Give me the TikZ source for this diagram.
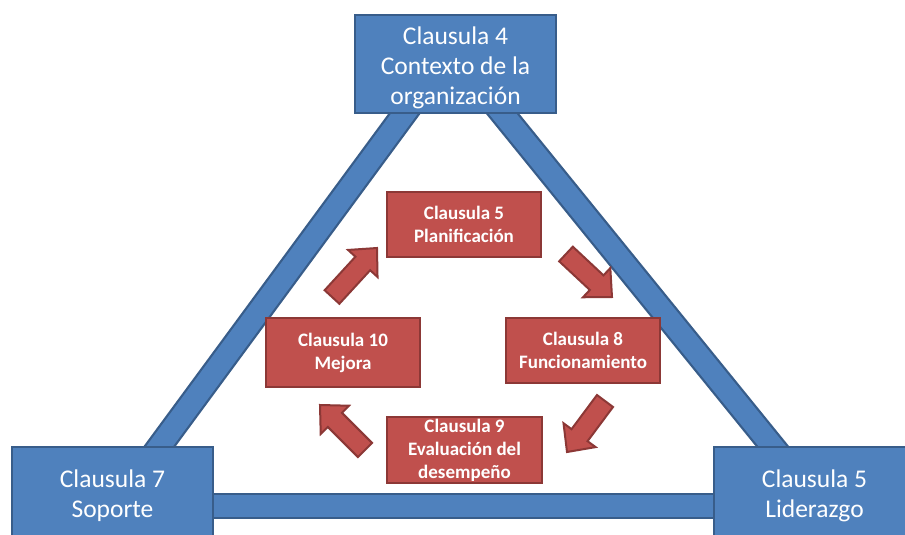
\documentclass[tikz,border=0pt]{standalone}
\usepackage{fontspec}
\setmainfont{Carlito}
\usetikzlibrary{calc,backgrounds}
\definecolor{bfill}{HTML}{4F81BD}
\definecolor{bline}{HTML}{385D8A}
\definecolor{rfill}{HTML}{C0504D}
\definecolor{rline}{HTML}{8C3836}
\tikzset{
 bluebox/.style={draw=bline, line width=2.5pt, fill=bfill, text=white, minimum width=201pt, minimum height=98pt, inner sep=0pt, align=center, font=\fontsize{25.5}{30}\selectfont},
 redbox/.style={draw=rline, line width=2.5pt, fill=rfill, text=white, minimum width=154pt, minimum height=65pt, inner sep=0pt, align=center, font=\bfseries\fontsize{19}{23}\selectfont},
 barout/.style={line width=26pt, draw=bline, shorten <=-20pt, shorten >=-20pt},
 barin/.style={line width=21.5pt, draw=bfill, shorten <=-20pt, shorten >=-20pt},
 redarrow/.style={draw=rline, line width=2pt, fill=rfill, line join=miter},
}
\newcommand\blockarrow[2]{%
 \coordinate (ha) at ($(#2)!21pt!(#1)$);
 \draw[redarrow] ($(#1)!10pt!90:(#2)$) -- ($(ha)!10pt!-90:(#1)$) -- ($(ha)!20pt!-90:(#1)$) -- (#2) -- ($(ha)!20pt!90:(#1)$) -- ($(ha)!10pt!90:(#1)$) -- ($(#1)!10pt!-90:(#2)$) -- cycle;}
\begin{document}
\begin{tikzpicture}[x=1pt,y=-1pt]
\clip (0,0) rectangle (905,535);
% blue boxes
\node[bluebox] (top) at (455.5,64) {\rule{0pt}{26pt}Clausula 4\\Contexto de la\\organización};
\node[bluebox] (bl) at (112.5,496) {Clausula 7\\Soporte};
\node[bluebox] (br) at (814.5,496) {Clausula 5\\Liderazgo};
% bars
\begin{scope}[on background layer]
\fill[white] (0,0) rectangle (905,535);
\draw[barout] ([xshift=-51.5pt]top.south) -- ([xshift=47.5pt]bl.north);
\draw[barin]  ([xshift=-51.5pt]top.south) -- ([xshift=47.5pt]bl.north);
\draw[barout] ([xshift=47.5pt]top.south) -- ([xshift=-42.5pt]br.north);
\draw[barin]  ([xshift=47.5pt]top.south) -- ([xshift=-42.5pt]br.north);
\draw[barout] ([yshift=-10pt]bl.east) -- ([yshift=-10pt]br.west);
\draw[barin]  ([yshift=-10pt]bl.east) -- ([yshift=-10pt]br.west);
\end{scope}
% red boxes
\node[redbox] (c5) at (464,224.5) {Clausula 5\\Planificación};
\node[redbox, minimum height=69pt] (c10) at (343,352.5) {Clausula 10\\Mejora};
\node[redbox] (c8) at (583,350.5) {Clausula 8\\Funcionamiento};
\node[redbox, minimum width=155pt, minimum height=66pt] (c9) at (464.5,450) {Clausula 9\\Evaluación del\\desempeño};
% arrows
\coordinate (a1s) at (332,297); \coordinate (a1e) at (377,248);
\coordinate (a2s) at (566,254); \coordinate (a2e) at (612,297);
\coordinate (a3s) at (605,401); \coordinate (a3e) at (567,452);
\coordinate (a4s) at (365,450); \coordinate (a4e) at (320,405);
\blockarrow{a1s}{a1e}
\blockarrow{a2s}{a2e}
\blockarrow{a3s}{a3e}
\blockarrow{a4s}{a4e}
\end{tikzpicture}
\end{document}
